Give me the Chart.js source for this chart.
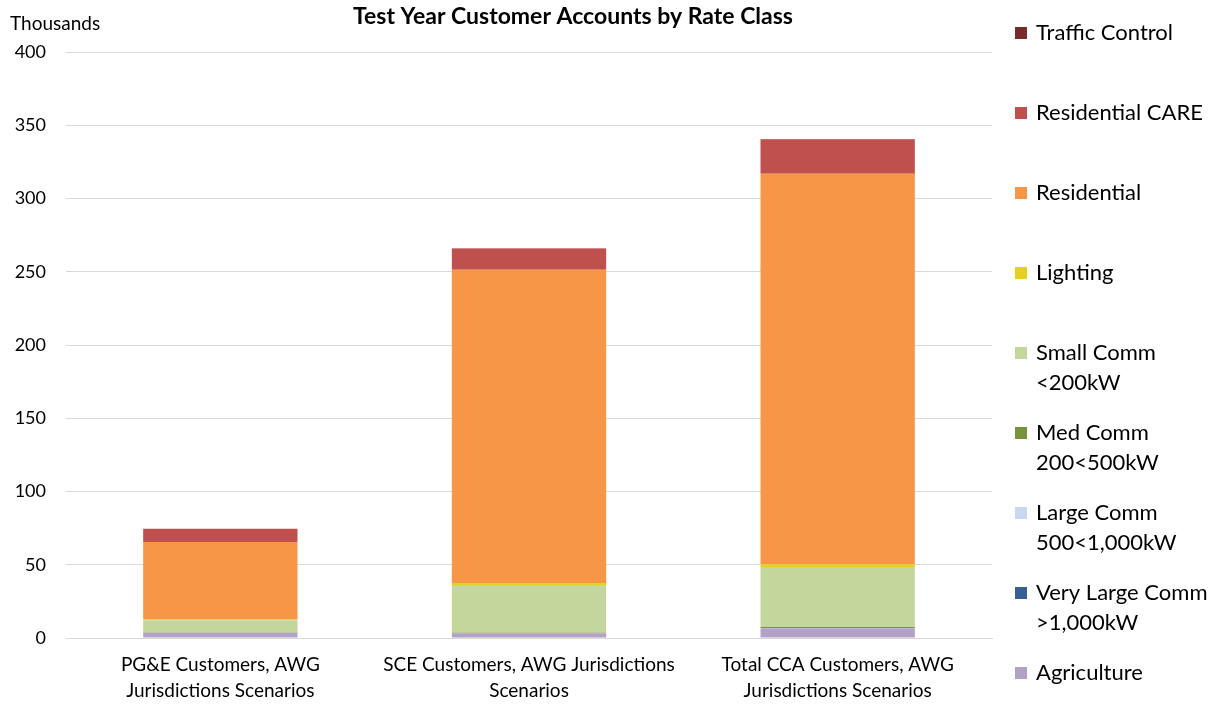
<!DOCTYPE html>
<html>
<head>
<meta charset="utf-8">
<script src="https://cdn.jsdelivr.net/npm/chart.js@4/dist/chart.umd.min.js"></script>
<style>
  html, body { margin: 0; padding: 0; background: #fff; }
  #wrap { width: 1220px; height: 705px; position: relative; }
</style>
</head>
<body>
<div id="wrap"><canvas id="chart"></canvas></div>
<script>
"use strict";

// categories on the x axis (multi-line labels)
const categories = [
	["PG&E Customers, AWG", "Jurisdictions Scenarios"],
	["SCE Customers, AWG Jurisdictions", "Scenarios"],
	["Total CCA Customers, AWG", "Jurisdictions Scenarios"]
];

// customer accounts, thousands: [PG&E, SCE, Total CCA]
const agriculture     = [3.4, 3.2, 6.6];
const veryLargeComm   = [0.05, 0.03, 0.08];
const largeComm       = [0.1, 0.07, 0.17];
const medComm         = [0.35, 0.3, 0.65];
const smallComm       = [8.3, 32.6, 40.9];
const lighting        = [0.6, 1.3, 1.9];
const residential     = [52.8, 213.8, 266.6];
const residentialCare = [8.9, 14.6, 23.5];
const trafficControl  = [0.05, 0.1, 0.15];

const yTicks = [0, 50, 100, 150, 200, 250, 300, 350, 400];

const FONT = "Lato, 'Open Sans', sans-serif";

// stacking order bottom -> top; legend lists them top -> bottom
const series = [
	{ label: ["Agriculture"], data: agriculture, color: "#B3A2C7" },
	{ label: ["Very Large Comm", ">1,000kW"], data: veryLargeComm, color: "#376092" },
	{ label: ["Large Comm", "500<1,000kW"], data: largeComm, color: "#C6D9F1" },
	{ label: ["Med Comm", "200<500kW"], data: medComm, color: "#77933C" },
	{ label: ["Small Comm", "<200kW"], data: smallComm, color: "#C3D69B" },
	{ label: ["Lighting"], data: lighting, color: "#E6D21E" },
	{ label: ["Residential"], data: residential, color: "#F79646" },
	{ label: ["Residential CARE"], data: residentialCare, color: "#C0504D" },
	{ label: ["Traffic Control"], data: trafficControl, color: "#772C2A" }
];

// title, unit caption and the right-hand legend
const decorations = {
	id: "decorations",
	afterDraw(chart) {
		const ctx = chart.ctx;
		ctx.save();
		ctx.fillStyle = "#000";
		ctx.textBaseline = "middle";

		ctx.font = "bold 23px " + FONT;
		ctx.textAlign = "center";
		ctx.fillText("Test Year Customer Accounts by Rate Class", 573, 17);

		ctx.font = "19px " + FONT;
		ctx.textAlign = "left";
		ctx.fillText("Thousands", 10, 24);

		const ds = chart.data.datasets;
		ctx.font = "22px " + FONT;
		for (let i = 0; i < ds.length; i++) {
			const d = ds[ds.length - 1 - i];
			const y = 33 + i * 80;
			ctx.fillStyle = d.backgroundColor;
			ctx.fillRect(1015, y - 6, 12, 12);
			ctx.fillStyle = "#000";
			d.legendLines.forEach((t, k) => ctx.fillText(t, 1036, y + k * 30));
		}
		ctx.restore();
	}
};

new Chart(document.getElementById("chart"), {
	type: "bar",
	data: {
		labels: categories,
		datasets: series.map(s => ({
			label: s.label.join(" "),
			legendLines: s.label,
			data: s.data,
			backgroundColor: s.color,
			borderWidth: 0,
			barPercentage: 0.5,
			categoryPercentage: 1
		}))
	},
	options: {
		responsive: true,
		maintainAspectRatio: false,
		animation: false,
		layout: { padding: { top: 52, right: 228, left: 0, bottom: 0 } },
		plugins: {
			legend: { display: false },
			title: { display: false },
			tooltip: { enabled: false }
		},
		scales: {
			x: {
				stacked: true,
				grid: { display: false, drawTicks: false },
				border: { color: "#D9D9D9", width: 1 },
				ticks: {
					color: "#000",
					font: { family: FONT, size: 19, lineHeight: 1.37 },
					padding: 14,
					maxRotation: 0,
					autoSkip: false
				},
				afterFit(scale) { scale.height = 67; }
			},
			y: {
				stacked: true,
				min: 0,
				max: 400,
				afterBuildTicks(scale) { scale.ticks = yTicks.map(v => ({ value: v })); },
				grid: { color: "#D9D9D9", lineWidth: 1, drawTicks: false },
				border: { display: false },
				ticks: {
					color: "#000",
					font: { family: FONT, size: 18 },
					padding: 20
				},
				afterFit(scale) { scale.width = 66; }
			}
		}
	},
	plugins: [decorations]
});
</script>
</body>
</html>
